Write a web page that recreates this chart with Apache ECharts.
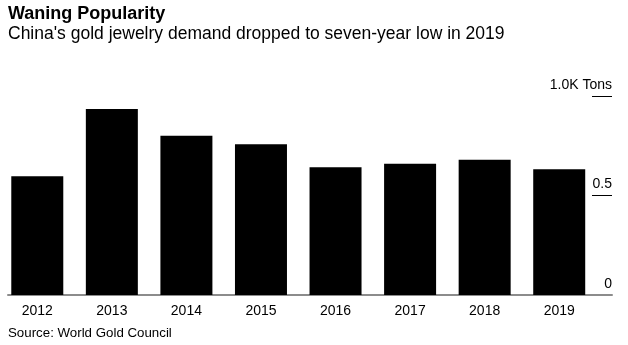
<!DOCTYPE html>
<html>
<head>
<meta charset="utf-8">
<script src="https://cdn.jsdelivr.net/npm/echarts@6/dist/echarts.min.js"></script>
<style>html,body{margin:0;padding:0;background:#fff}#c{width:628px;height:345px}</style>
</head>
<body>
<div id="c"></div>
<script>
var categories = ['2012','2013','2014','2015','2016','2017','2018','2019'];
var demandTons = [597, 935, 800, 758, 642, 660, 680, 632];
var yTicks = [0, 500, 1000];
var yTickMarks = [500, 1000];
var yTickLabels = {0: '0', 500: '0.5', 1000: '1.0K Tons'};

var FONT = 'Liberation Sans, Arial, Helvetica, sans-serif';
var chart = echarts.init(document.getElementById('c'), null, {renderer: 'canvas'});
chart.setOption({
  animation: false,
  backgroundColor: '#fff',
  title: [
    {text: 'Waning Popularity', left: 8, top: 5, padding: 0, textStyle: {fontFamily: FONT, fontSize: 18, fontWeight: 'bold', color: '#000'}},
    {text: "China's gold jewelry demand dropped to seven-year low in 2019", left: 8, top: 25, padding: 0, textStyle: {fontFamily: FONT, fontSize: 17.5, fontWeight: 'normal', color: '#000'}},
    {text: 'Source: World Gold Council', left: 8, top: 327, padding: 0, textStyle: {fontFamily: FONT, fontSize: 13.3, fontWeight: 'normal', color: '#000'}}
  ],
  grid: [
    {left: -3.5, width: 600, top: 96, bottom: 50, containLabel: false},
    {left: 8, right: 16, top: 96, bottom: 50, containLabel: false}
  ],
  xAxis: [
    {type: 'category', gridIndex: 0, data: categories,
     axisLine: {show: false}, axisTick: {show: false},
     axisLabel: {margin: 9, fontFamily: FONT, fontSize: 14, color: '#000'}},
    {type: 'value', gridIndex: 1, min: 0, max: 1,
     axisLine: {show: true, onZero: false, lineStyle: {color: '#8c8c8c', width: 2}},
     axisTick: {show: false}, axisLabel: {show: false}, splitLine: {show: false}}
  ],
  yAxis: [
    {type: 'value', gridIndex: 0, min: 0, max: 1000, show: false},
    {type: 'value', gridIndex: 1, position: 'right', min: 0, max: 1000, interval: 500,
     axisLine: {show: false, onZero: false},
     axisTick: {show: true, inside: true, length: 20, customValues: yTickMarks, lineStyle: {color: '#000', width: 1}},
     splitLine: {show: false},
     axisLabel: {inside: true, margin: 0, verticalAlign: 'bottom', padding: [0, 0, 4, 0],
       customValues: yTicks,
       fontFamily: FONT, fontSize: 14, color: '#000',
       formatter: function (v) { return yTickLabels[v] !== undefined ? yTickLabels[v] : ''; }}}
  ],
  series: [
    {type: 'bar', xAxisIndex: 0, yAxisIndex: 0, data: demandTons, barWidth: 52,
     itemStyle: {color: '#000'}, silent: true}
  ]
});
</script>
</body>
</html>
